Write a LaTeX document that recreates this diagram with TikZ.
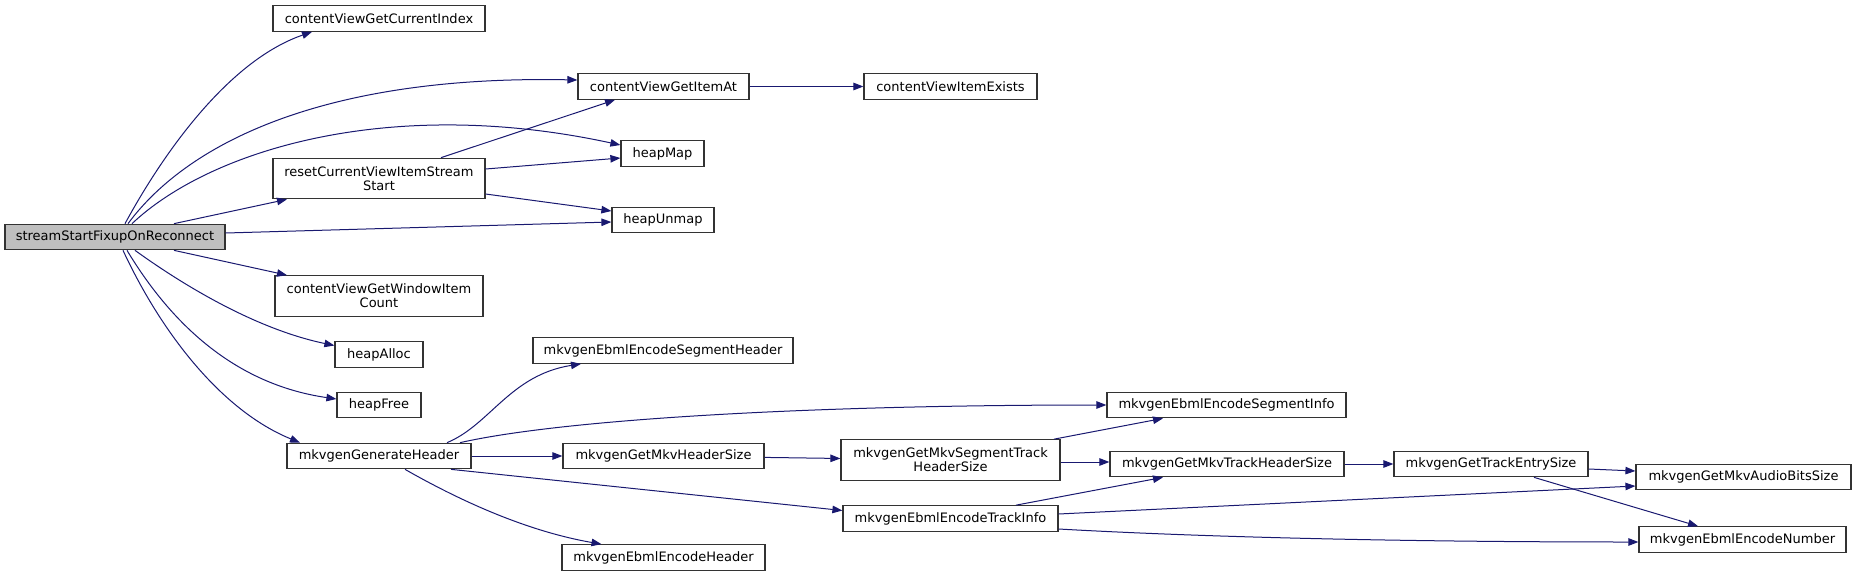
\documentclass[tikz,border=0pt]{standalone}
\usepackage{fontspec}
\setmainfont{DejaVu Sans}
\usetikzlibrary{arrows.meta}
\definecolor{edgeblue}{HTML}{191970}
\definecolor{boxline}{HTML}{333333}
\begin{document}
\begin{tikzpicture}[x=1pt,y=-1pt,
  fn/.style={draw=boxline,line width=1.2pt,fill=white,inner sep=0pt,align=center,
    font=\fontsize{13}{13.8}\selectfont,minimum height=25.5pt},
  fn2/.style={fn,minimum height=40.5pt},
  cur/.style={fill=black!25},
  call/.style={draw=edgeblue,line width=1pt,-{Triangle[length=10pt,width=7.5pt]},fill=none}]
\useasboundingbox (0,0) rectangle (1856,576);
% nodes
\node[fn,cur,minimum width=220pt] (stream) at (115,237) {streamStartFixupOnReconnect};
\node[fn,minimum width=212pt] (cvgci) at (379,18.5) {contentViewGetCurrentIndex};
\node[fn,minimum width=171pt] (cvgia) at (663.5,86.5) {contentViewGetItemAt};
\node[fn,minimum width=173pt] (cvie) at (950.5,86.5) {contentViewItemExists};
\node[fn,minimum width=83pt] (hmap) at (662.5,153.5) {heapMap};
\node[fn2,minimum width=212pt] (reset) at (379,178.5) {resetCurrentViewItemStream\\Start};
\node[fn,minimum width=102pt] (hunmap) at (663,220) {heapUnmap};
\node[fn2,minimum width=208pt] (cvgwic) at (379,296) {contentViewGetWindowItem\\Count};
\node[fn,minimum width=88pt] (halloc) at (379,354.5) {heapAlloc};
\node[fn,minimum width=84pt] (hfree) at (379,405) {heapFree};
\node[fn,minimum width=184pt] (mgh) at (379,456) {mkvgenGenerateHeader};
\node[fn,minimum width=260pt] (mesh) at (663,350.5) {mkvgenEbmlEncodeSegmentHeader};
\node[fn,minimum width=201pt] (mgmhs) at (663.5,456) {mkvgenGetMkvHeaderSize};
\node[fn,minimum width=203pt] (meeh) at (663.5,557.5) {mkvgenEbmlEncodeHeader};
\node[fn2,minimum width=219pt] (mgmsths) at (950.5,460) {mkvgenGetMkvSegmentTrack\\HeaderSize};
\node[fn,minimum width=215pt] (meeti) at (950.5,518.5) {mkvgenEbmlEncodeTrackInfo};
\node[fn,minimum width=239pt] (mesi) at (1226.5,405) {mkvgenEbmlEncodeSegmentInfo};
\node[fn,minimum width=234pt] (mgmths) at (1227,464) {mkvgenGetMkvTrackHeaderSize};
\node[fn,minimum width=194pt] (mgtes) at (1491,464) {mkvgenGetTrackEntrySize};
\node[fn,minimum width=215pt] (mgmabs) at (1743.5,477) {mkvgenGetMkvAudioBitsSize};
\node[fn,minimum width=207pt] (meen) at (1742.5,539.5) {mkvgenEbmlEncodeNumber};
% edges from stream
\draw[call] ([xshift=10pt]stream.north) .. controls (165,150) and (230,60) .. ([xshift=-67pt]cvgci.south);
\draw[call] ([xshift=13pt]stream.north) .. controls (190,140) and (330,75) .. ([yshift=6.5pt]cvgia.west);
\draw[call] ([xshift=17pt]stream.north) .. controls (210,150) and (390,95) .. ([yshift=8.5pt]hmap.west);
\draw[call] ([xshift=59pt]stream.north) -- ([xshift=-92pt]reset.south);
\draw[call] ([yshift=4pt]stream.east) -- ([yshift=-2pt]hunmap.west);
\draw[call] ([xshift=59pt]stream.south) -- ([xshift=-92pt]cvgwic.north);
\draw[call] ([xshift=20pt]stream.south) .. controls (190,290) and (260,330) .. ([yshift=9pt]halloc.west);
\draw[call] ([xshift=12pt]stream.south) .. controls (175,330) and (240,385) .. ([yshift=6pt]hfree.west);
\draw[call] ([xshift=8pt]stream.south) .. controls (160,330) and (220,410) .. ([xshift=-79pt]mgh.north);
% reset
\draw[call] ([xshift=62pt]reset.north) -- ([xshift=-48.5pt]cvgia.south);
\draw[call] ([yshift=9.5pt]reset.east) -- ([yshift=-4.5pt]hmap.west);
\draw[call] ([yshift=-15.5pt]reset.east) -- ([yshift=9pt]hunmap.west);
\draw[call] (cvgia) -- (cvie);
% mkvgenGenerateHeader
\draw[call] ([xshift=68pt]mgh.north) .. controls (490,425) and (510,375) .. ([xshift=-82pt]mesh.south);
\draw[call] ([xshift=81pt]mgh.north) .. controls (560,420) and (800,405) .. (mesi.west);
\draw[call] (mgh) -- (mgmhs);
\draw[call] ([xshift=72pt]mgh.south) -- ([yshift=8pt]meeti.west);
\draw[call] ([xshift=26pt]mgh.south) .. controls (450,495) and (520,530) .. ([xshift=-62pt]meeh.north);
% others
\draw[call] (mgmhs) -- (mgmsths);
\draw[call] ([xshift=103.5pt]mgmsths.north) -- ([xshift=-63.5pt]mesi.south);
\draw[call] ([yshift=-2pt]mgmsths.east) -- ([yshift=2pt]mgmths.west);
\draw[call] ([xshift=65.5pt]meeti.north) -- ([xshift=-64pt]mgmths.south);
\draw[call] ([yshift=4.5pt]meeti.east) -- ([yshift=-9pt]mgmabs.west);
\draw[call] ([yshift=-10.5pt]meeti.east) .. controls (1200,537) and (1400,542) .. ([yshift=-2.5pt]meen.west);
\draw[call] (mgmths) -- (mgtes);
\draw[call] ([yshift=-5pt]mgtes.east) -- ([yshift=6pt]mgmabs.west);
\draw[call] ([xshift=43pt]mgtes.south) -- ([xshift=-44.5pt]meen.north);
\end{tikzpicture}
\end{document}
